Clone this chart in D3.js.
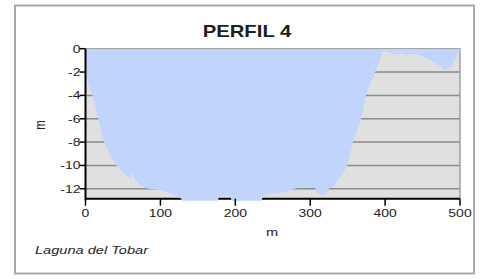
<!DOCTYPE html>
<html><head><meta charset="utf-8">
<script src="https://cdn.jsdelivr.net/npm/d3@7"></script>
<style>body{margin:0;background:#fff}svg{display:block}text{font-family:"Liberation Sans",Arial,sans-serif}</style>
</head><body><svg id="c" width="484" height="279"></svg>
<script>
const distance = [0,2,5,10,17,25,33,42,50,57,60,62,66,75,84,100,111,120,128,130,176,178,182,190,194,196,234,236,242,255,264,277,286,306,310,316,319,325,331,340,349,357,368,374,380,386,390,393,396,400,410,415,420,424,427,430,442,452,460,468,473,479,485,490,495,500];
const elevation = [-1.2,-2.5,-3.3,-4.1,-6.0,-8.0,-9.2,-10.07,-10.6,-11.0,-11.1,-10.6,-11.2,-11.8,-12.0,-12.1,-12.35,-12.6,-12.85,-13.3,-13.3,-12.7,-12.6,-12.6,-12.75,-13.3,-13.3,-12.8,-12.5,-12.4,-12.3,-12.05,-11.9,-11.9,-12.4,-12.6,-12.5,-12.0,-11.8,-11.0,-10.1,-8.0,-6.0,-4.1,-3.0,-2.1,-1.5,-0.9,-0.3,-0.25,-0.45,-0.5,-0.4,-0.45,-0.6,-0.45,-0.5,-0.7,-0.95,-1.25,-1.5,-1.85,-1.7,-1.4,-0.7,-0.1];
const xTicks = [0,100,200,300,400,500];
const yTicks = [0,-2,-4,-6,-8,-10,-12];
const title = "PERFIL 4";
const note = "Laguna del Tobar";

const svg = d3.select("#c");
const L=85.5, R=460, T=48.7, B=198.7;
const SX=1.27;
const x = d3.scaleLinear().domain([0,500]).range([L,R]);
const y = d3.scaleLinear().domain([-12.85,0]).range([B,T]);

function txt(g, px, py, s, size, anchor, extra){
  const t = g.append("text").attr("transform",`translate(${px},${py}) scale(${SX},1)`)
    .attr("text-anchor",anchor).attr("font-size",size).attr("fill","#1e1e1e").text(s);
  if(extra) extra(t);
  return t;
}

// outer frame
svg.append("rect").attr("x",15).attr("y",5.5).attr("width",459).attr("height",268).attr("fill","#fff").attr("stroke","#a8a8a8").attr("stroke-width",2);

// plot background
svg.append("rect").attr("x",L).attr("y",T).attr("width",R-L).attr("height",B-T).attr("fill","#e0e0e0");
// gridlines
svg.append("g").selectAll("line").data(yTicks.filter(d=>d<0)).join("line")
 .attr("x1",L).attr("x2",R).attr("y1",d=>y(d)).attr("y2",d=>y(d)).attr("stroke","#8a8a8a").attr("stroke-width",1.5);
// top & right border
svg.append("path").attr("d",`M${L},${T}H${R}V${B}`).attr("fill","none").attr("stroke","#a0a0a0").attr("stroke-width",1.5);

// x axis line
svg.append("line").attr("x1",L).attr("x2",R).attr("y1",B).attr("y2",B).attr("stroke","#000").attr("stroke-width",2);

// clip for water area
svg.append("clipPath").attr("id","cp").append("rect").attr("x",L).attr("y",T).attr("width",R-L).attr("height",B-T+2);
const data = distance.map((d,i)=>({d, e:elevation[i]}));
const area = d3.area().x(p=>x(p.d)).y0(y(0)).y1(p=>y(p.e));
svg.append("path").datum(data).attr("d",area).attr("fill","#c0d4fc").attr("clip-path","url(#cp)");

// y axis
svg.append("line").attr("x1",L).attr("x2",L).attr("y1",T).attr("y2",B+1).attr("stroke","#000").attr("stroke-width",2);
const yg = svg.append("g");
yg.selectAll("line").data(yTicks).join("line").attr("x1",L-6).attr("x2",L).attr("y1",d=>y(d)).attr("y2",d=>y(d)).attr("stroke","#000").attr("stroke-width",1.5);
yTicks.forEach(d=>txt(yg, L-5, y(d)+4, d, 11, "end"));

// x ticks
const xg = svg.append("g");
xg.selectAll("line").data(xTicks).join("line").attr("x1",d=>x(d)).attr("x2",d=>x(d)).attr("y1",B).attr("y2",B+7).attr("stroke","#000").attr("stroke-width",1.5);
xTicks.forEach(d=>txt(xg, x(d), B+18, d, 11, "middle"));

// titles
txt(svg, 247, 36.5, title, 16, "middle", t=>t.attr("font-weight","bold"));
txt(svg, 272, 236, "m", 11.5, "middle");
svg.append("text").attr("transform","translate(45,125) rotate(-90) scale(1,1.27)").attr("text-anchor","middle").attr("font-size",11.5).attr("fill","#1e1e1e").text("m");
txt(svg, 35, 254, note, 11.5, "start", t=>t.attr("font-style","italic"));
</script></body></html>
